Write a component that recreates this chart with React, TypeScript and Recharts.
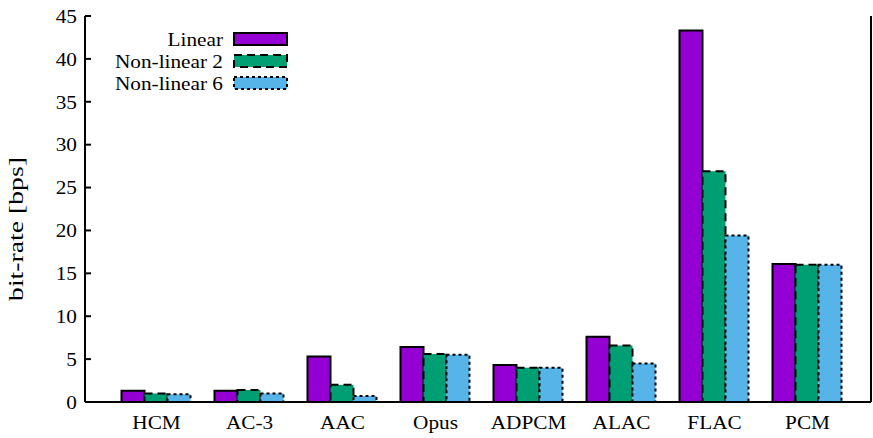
import React from 'react';
import { BarChart, Bar, XAxis, YAxis, Legend, Label } from 'recharts';

// Codec categories along the x axis
const codecs = ['HCM', 'AC-3', 'AAC', 'Opus', 'ADPCM', 'ALAC', 'FLAC', 'PCM'];

// Bit-rate per codec for each quantization scheme
const linear = [1.3, 1.3, 5.3, 6.4, 4.3, 7.6, 43.3, 16.1];
const nonLinear2 = [1.0, 1.4, 2.0, 5.6, 4.0, 6.6, 26.9, 16.0];
const nonLinear6 = [0.9, 1.0, 0.7, 5.5, 4.0, 4.5, 19.4, 16.0];

const yTicks = [0, 5, 10, 15, 20, 25, 30, 35, 40, 45];

const data = codecs.map((codec, i) => ({
  codec,
  linear: linear[i],
  nl2: nonLinear2[i],
  nl6: nonLinear6[i],
}));

const FONT = '"Liberation Serif", "Times New Roman", serif';
const FONT_SIZE = 19;
// wide-set serif lettering: glyphs are stretched horizontally
const STRETCH = 1.12;

const series = [
  { key: 'linear', name: 'Linear', fill: '#9400D3', dash: undefined as string | undefined },
  { key: 'nl2', name: 'Non-linear 2', fill: '#009E73', dash: '8 5' },
  { key: 'nl6', name: 'Non-linear 6', fill: '#56B4E9', dash: '3 3' },
];

const WideText = ({ x, y, anchor, dy, children, size = FONT_SIZE, stretch = STRETCH }: any) => (
  <text
    transform={`translate(${x},${y}) scale(${stretch},1)`}
    textAnchor={anchor}
    dy={dy}
    fontFamily={FONT}
    fontSize={size}
    fill="#000"
  >
    {children}
  </text>
);

const XTick = (props: any) => (
  <WideText x={props.x} y={props.y} anchor="middle" dy="0.71em">
    {props.payload.value}
  </WideText>
);

const YTick = (props: any) => (
  <WideText x={props.x} y={props.y} anchor="end" dy="0.355em">
    {props.payload.value}
  </WideText>
);

const NoTick = () => null;

const LegendBox = () => (
  <svg width={160} height={70} style={{ display: 'block', overflow: 'visible' }}>
    {series.map((s, i) => (
      <g key={s.key}>
        <WideText x={88} y={10 + i * 22} anchor="end" dy="0.355em">
          {s.name}
        </WideText>
        <rect
          x={99}
          y={4 + i * 22}
          width={53}
          height={12}
          fill={s.fill}
          stroke="#000"
          strokeWidth={2}
          strokeDasharray={s.dash}
        />
      </g>
    ))}
  </svg>
);

const axisLine = { stroke: '#000', strokeWidth: 2 };
const tickLine = { stroke: '#000', strokeWidth: 2 };
const xPadding = { left: 25, right: 17 };

export default function App() {
  return (
    <div style={{ position: 'absolute', left: 0, top: 0, background: '#fff' }}>
      <BarChart
        width={873}
        height={438}
        data={data}
        margin={{ top: 16, right: 0, bottom: 0, left: 0 }}
        barCategoryGap={11.5}
        barGap={0}
      >
        {series.map((s) => (
          <Bar
            key={s.key}
            dataKey={s.key}
            name={s.name}
            fill={s.fill}
            stroke="#000"
            strokeWidth={2}
            strokeDasharray={s.dash}
            isAnimationActive={false}
          />
        ))}
        <XAxis
          dataKey="codec"
          height={36}
          padding={xPadding}
          tickLine={false}
          tickSize={0}
          tickMargin={14}
          axisLine={axisLine}
          tick={<XTick />}
          interval={0}
        />
        <XAxis
          xAxisId="top"
          orientation="top"
          dataKey="codec"
          height={0}
          padding={xPadding}
          tick={<NoTick />}
          tickSize={-11}
          tickLine={tickLine}
          axisLine={axisLine}
          interval={0}
        />
        <YAxis
          width={85}
          domain={[0, 45]}
          ticks={yTicks}
          interval={0}
          tickSize={-6}
          tickMargin={14}
          tickLine={tickLine}
          axisLine={axisLine}
          tick={<YTick />}
        >
          <Label
            content={(props: any) => {
              const vb = props.viewBox || {};
              const cx = 16;
              const cy = (vb.y ?? 16) + (vb.height ?? 386) / 2 + 20;
              return (
                <text
                  transform={`translate(${cx},${cy}) rotate(-90) scale(1.32,1)`}
                  textAnchor="middle"
                  dy="0.355em"
                  fontFamily={FONT}
                  fontSize={21}
                  fill="#000"
                >
                  bit-rate [bps]
                </text>
              );
            }}
          />
        </YAxis>
        <YAxis
          yAxisId="right"
          orientation="right"
          width={2}
          domain={[0, 45]}
          ticks={yTicks}
          interval={0}
          tick={<NoTick />}
          tickSize={-6}
          tickLine={tickLine}
          axisLine={axisLine}
        />
        <Legend
          layout="vertical"
          align="center"
          verticalAlign="middle"
          content={() => <LegendBox />}
          wrapperStyle={{ top: 29, left: 135, width: 160, height: 70 }}
        />
      </BarChart>
    </div>
  );
}
